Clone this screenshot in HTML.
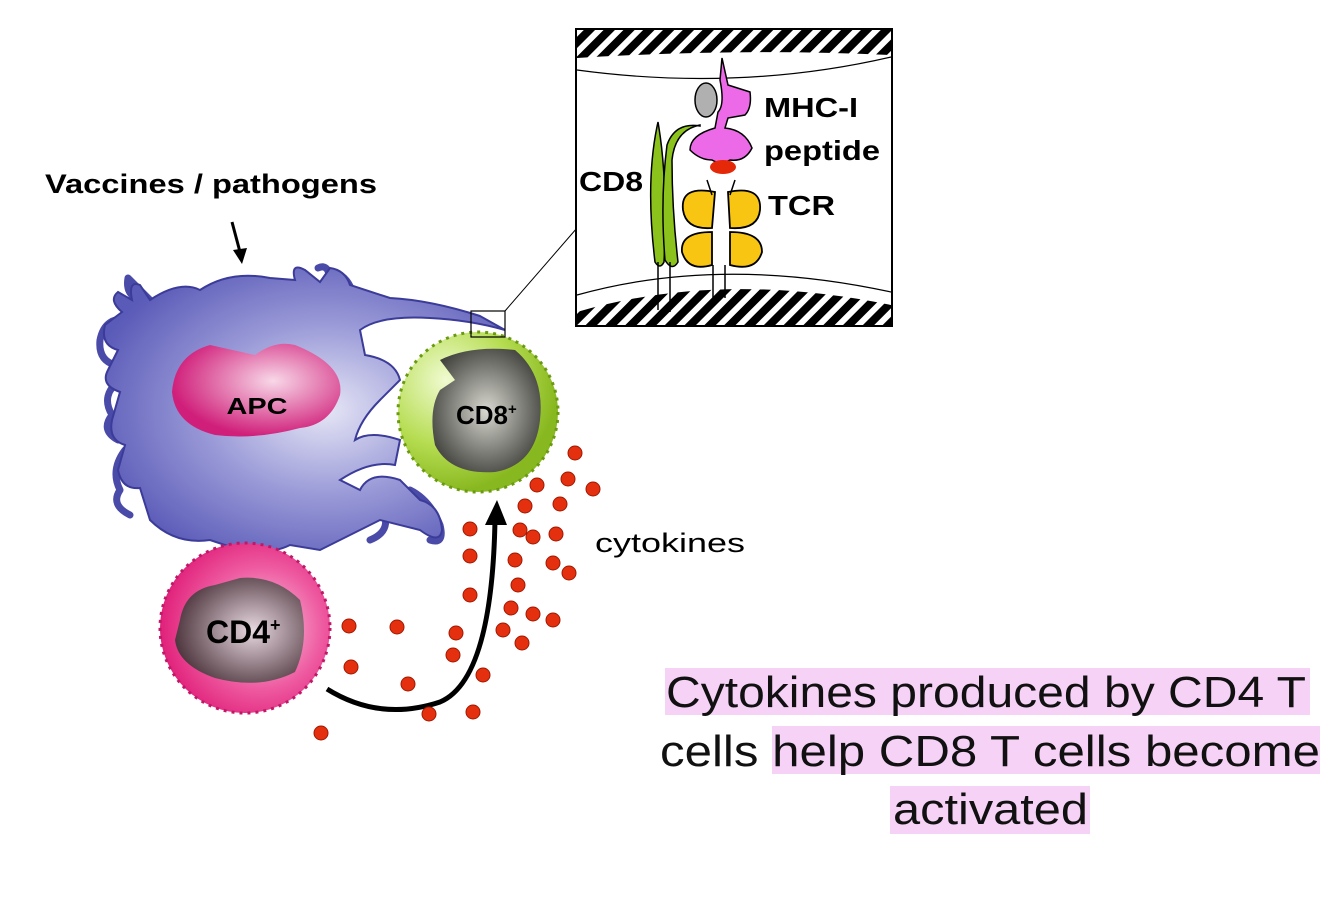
<!DOCTYPE html>
<html><head><meta charset="utf-8"><style>
html,body{margin:0;padding:0;background:#fff}
svg{display:block}
text{font-family:"Liberation Sans",Arial,sans-serif}
</style></head><body>
<svg width="1334" height="909" viewBox="0 0 1334 909" xmlns="http://www.w3.org/2000/svg">
<defs>
<radialGradient id="apc" cx="0.55" cy="0.5" r="0.6"><stop offset="0" stop-color="#e6e6f6"/><stop offset="0.5" stop-color="#9a9ad8"/><stop offset="1" stop-color="#5a5ab8"/></radialGradient>
<radialGradient id="nuc" cx="0.6" cy="0.4" r="0.6"><stop offset="0" stop-color="#f8d8e8"/><stop offset="1" stop-color="#d01f7a"/></radialGradient>
<radialGradient id="g8" cx="0.3" cy="0.3" r="0.7"><stop offset="0" stop-color="#f0fbd0"/><stop offset="0.6" stop-color="#b5dc50"/><stop offset="1" stop-color="#88b820"/></radialGradient>
<radialGradient id="g4" cx="0.6" cy="0.5" r="0.6"><stop offset="0" stop-color="#fad0e4"/><stop offset="0.6" stop-color="#ee5aa0"/><stop offset="1" stop-color="#e0207a"/></radialGradient>
<radialGradient id="n8" cx="0.5" cy="0.5" r="0.6"><stop offset="0" stop-color="#d8d8d0"/><stop offset="1" stop-color="#3a3a36"/></radialGradient>
<radialGradient id="n4" cx="0.6" cy="0.5" r="0.6"><stop offset="0" stop-color="#e8d8e0"/><stop offset="1" stop-color="#503840"/></radialGradient>
<pattern id="hatch" width="14" height="14" patternUnits="userSpaceOnUse" patternTransform="rotate(45)"><rect width="14" height="14" fill="#fff"/><rect width="8" height="14" fill="#000"/></pattern>
</defs>

<text x="45" y="193" font-size="27" font-weight="bold" textLength="332" lengthAdjust="spacingAndGlyphs">Vaccines / pathogens</text>
<line x1="232" y1="222" x2="240" y2="252" stroke="#000" stroke-width="3"/>
<polygon points="233,250 247,248 242,264" fill="#000"/>

<!-- APC filaments -->
<g fill="none" stroke="#4a4aa8" stroke-width="7" stroke-linecap="round" stroke-linejoin="round">
<path d="M150,300 Q135,285 128,278 Q125,295 140,300"/>
<path d="M130,320 Q105,315 100,340 Q98,360 115,365"/>
<path d="M120,380 Q100,395 112,415 Q100,430 118,440"/>
<path d="M125,450 Q110,470 120,490 Q110,505 130,515"/>
<path d="M330,285 Q330,262 318,268"/>
<path d="M355,300 Q350,280 340,275"/>
<path d="M410,490 Q430,500 440,525 Q445,545 430,540"/>
<path d="M380,505 Q395,530 370,540"/>
</g>
<!-- APC -->
<path d="M150,300 Q180,280 200,290 Q230,270 270,278 L295,280 Q290,262 305,270 L320,282 L330,268 Q345,270 350,285 L390,298 Q430,300 480,316 L505,330 Q470,320 430,318 Q380,315 360,330 L365,355 Q395,360 400,380 L380,400 Q360,420 355,440 Q370,430 400,440 L395,465 Q370,460 340,480 L360,490 Q370,470 400,480 L420,500 Q440,505 442,530 Q440,545 420,530 L380,520 Q360,530 320,550 L290,545 Q270,555 240,550 L210,540 Q175,545 150,520 L140,488 Q122,490 118,470 L125,445 Q108,440 112,420 L120,392 Q100,385 108,370 L118,350 Q100,345 105,325 L122,312 Q108,300 118,292 L132,300 Q128,280 140,285 Z" fill="url(#apc)" stroke="#3b3b99" stroke-width="2"/>
<path d="M172,392 Q175,355 210,345 L255,355 Q275,340 295,345 Q345,365 340,395 Q330,425 300,428 Q255,440 215,435 Q175,425 172,392 Z" fill="url(#nuc)"/>
<text x="257" y="414" font-size="23" font-weight="bold" text-anchor="middle" textLength="61" lengthAdjust="spacingAndGlyphs">APC</text>

<!-- CD8 cell -->
<circle cx="478" cy="412" r="80" fill="url(#g8)" stroke="#6a9a10" stroke-width="3" stroke-dasharray="3 5"/>
<path d="M440,360 Q470,345 515,350 Q545,375 540,420 Q535,465 495,472 Q450,475 435,445 Q428,410 440,390 L455,380 Z" fill="url(#n8)"/>
<text x="456" y="424" font-size="26" font-weight="bold">CD8<tspan font-size="15" dy="-10">+</tspan></text>
<rect x="471" y="311" width="34" height="26" fill="none" stroke="#000" stroke-width="1.2"/>
<line x1="505" y1="311" x2="577" y2="228" stroke="#000" stroke-width="1"/>

<!-- CD4 cell -->
<circle cx="245" cy="628" r="85" fill="url(#g4)" stroke="#c01868" stroke-width="3" stroke-dasharray="3 5"/>
<path d="M180,620 Q185,590 215,585 L240,578 Q275,575 300,600 Q310,640 295,672 Q260,690 215,678 Q178,665 175,640 Z" fill="url(#n4)"/>
<text x="206" y="643" font-size="32" font-weight="bold">CD4<tspan font-size="18" dy="-12">+</tspan></text>

<!-- arrow -->
<path d="M327,689 Q380,722 440,702 Q492,680 495,520" fill="none" stroke="#000" stroke-width="5"/>
<polygon points="485,525 507,525 497,500" fill="#000"/>

<g fill="#e53010" stroke="#a01800" stroke-width="1">
<circle cx="575" cy="453" r="7"/><circle cx="537" cy="485" r="7"/><circle cx="568" cy="479" r="7"/><circle cx="593" cy="489" r="7"/><circle cx="525" cy="506" r="7"/><circle cx="560" cy="504" r="7"/><circle cx="470" cy="529" r="7"/><circle cx="520" cy="530" r="7"/><circle cx="533" cy="537" r="7"/><circle cx="556" cy="534" r="7"/><circle cx="470" cy="556" r="7"/><circle cx="515" cy="560" r="7"/><circle cx="553" cy="563" r="7"/><circle cx="569" cy="573" r="7"/><circle cx="518" cy="585" r="7"/><circle cx="470" cy="595" r="7"/><circle cx="511" cy="608" r="7"/><circle cx="533" cy="614" r="7"/><circle cx="553" cy="620" r="7"/><circle cx="456" cy="633" r="7"/><circle cx="503" cy="630" r="7"/><circle cx="522" cy="643" r="7"/><circle cx="349" cy="626" r="7"/><circle cx="397" cy="627" r="7"/><circle cx="453" cy="655" r="7"/><circle cx="351" cy="667" r="7"/><circle cx="483" cy="675" r="7"/><circle cx="408" cy="684" r="7"/><circle cx="429" cy="714" r="7"/><circle cx="473" cy="712" r="7"/><circle cx="321" cy="733" r="7"/>
</g>
<text x="595" y="552" font-size="27" textLength="150" lengthAdjust="spacingAndGlyphs">cytokines</text>

<!-- inset -->
<g>
<rect x="576" y="29" width="316" height="297" fill="#fff" stroke="#000" stroke-width="2"/>
<path d="M577,30 L891,30 L891,55 Q740,48 577,58 Z" fill="url(#hatch)"/>
<path d="M577,70 Q740,92 891,57" fill="none" stroke="#000" stroke-width="1.2"/>
<path d="M577,295 Q720,255 891,292" fill="none" stroke="#000" stroke-width="1.2"/>
<path d="M577,312 Q720,270 891,305 L891,325 L577,325 Z" fill="url(#hatch)"/>
<path d="M658,122 Q668,180 664,262 Q660,270 655,262 Q645,180 658,122 Z" fill="#8cc21c" stroke="#000" stroke-width="1.5"/>
<path d="M700,125 Q675,130 672,160 Q672,210 678,262 Q672,272 665,260 Q660,200 667,145 Q675,122 700,126 Z" fill="#8cc21c" stroke="#000" stroke-width="1.5"/>
<line x1="658" y1="262" x2="658" y2="310" stroke="#000" stroke-width="1.5"/>
<line x1="670" y1="262" x2="670" y2="312" stroke="#000" stroke-width="1.5"/>
<ellipse cx="706" cy="100" rx="11" ry="17" fill="#b0b0b0" stroke="#000" stroke-width="1.5"/>
<path d="M722,58 L728,85 L750,92 Q752,108 745,115 L728,118 L725,128 Q745,130 752,148 Q745,162 730,160 Q720,165 712,160 Q700,160 690,150 Q690,135 715,128 L718,112 Q725,105 720,80 Z" fill="#ec6ae8" stroke="#000" stroke-width="1.5"/>
<ellipse cx="723" cy="167" rx="13" ry="7" fill="#e52808"/>
<g fill="#f7c512" stroke="#000" stroke-width="1.8">
<path d="M715,192 Q680,185 683,210 Q686,230 712,228 Z"/><path d="M728,192 Q762,185 760,210 Q758,230 730,228 Z"/>
<path d="M712,232 Q680,232 682,252 Q688,272 712,265 Z"/><path d="M730,232 Q762,232 762,252 Q756,272 730,265 Z"/>
</g>
<line x1="707" y1="180" x2="712" y2="195" stroke="#000" stroke-width="1.5"/>
<line x1="735" y1="180" x2="730" y2="195" stroke="#000" stroke-width="1.5"/>
<line x1="713" y1="265" x2="713" y2="300" stroke="#000" stroke-width="1.5"/>
<line x1="725" y1="265" x2="725" y2="298" stroke="#000" stroke-width="1.5"/>
<g font-size="28" font-weight="bold">
<text x="764" y="117" textLength="94" lengthAdjust="spacingAndGlyphs">MHC-I</text>
<text x="764" y="160" textLength="116" lengthAdjust="spacingAndGlyphs">peptide</text>
<text x="768" y="215" textLength="67" lengthAdjust="spacingAndGlyphs">TCR</text>
<text x="579" y="191" textLength="64" lengthAdjust="spacingAndGlyphs">CD8</text>
</g>
</g>

<g fill="#f6d2f6">
<rect x="665" y="668" width="645" height="47"/>
<rect x="772" y="726" width="548" height="48"/>
<rect x="890" y="786" width="200" height="48"/>
</g>
<g font-size="44" fill="#111">
<text x="666" y="707" textLength="640" lengthAdjust="spacingAndGlyphs">Cytokines produced by CD4 T</text>
<text x="660" y="766" textLength="660" lengthAdjust="spacingAndGlyphs">cells help CD8 T cells become</text>
<text x="893" y="824" textLength="195" lengthAdjust="spacingAndGlyphs">activated</text>
</g>
</svg>
</body></html>
